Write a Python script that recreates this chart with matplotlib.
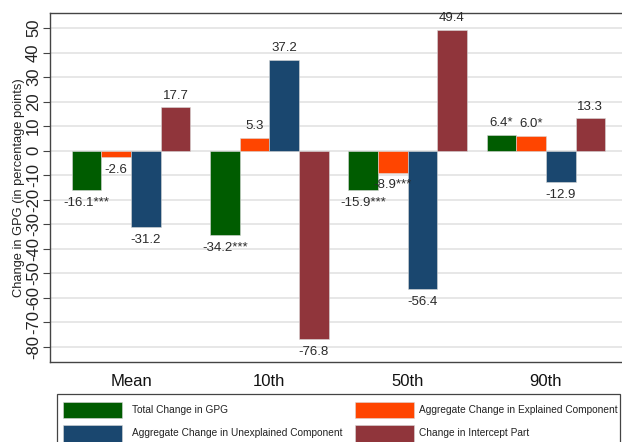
import numpy as np
import matplotlib
matplotlib.use("Agg")
import matplotlib.pyplot as plt
from matplotlib.patches import Rectangle

plt.rcParams['font.family'] = ['Liberation Sans', 'DejaVu Sans']

groups = ["Mean", "10th", "50th", "90th"]
series_names = [
    "Total Change in GPG",
    "Aggregate Change in Explained Component",
    "Aggregate Change in Unexplained Component",
    "Change in Intercept Part",
]
total = [-16.1, -34.2, -15.9, 6.4]
explained = [-2.6, 5.3, -8.9, 6.0]
unexplained = [-31.2, 37.2, -56.4, -12.9]
intercept = [17.7, -76.8, 49.4, 13.3]
stars = [
    ["***", "***", "***", "*"],
    ["", "", "***", "*"],
    ["", "", "", ""],
    ["", "", "", ""],
]
yticks = list(range(-80, 51, 10))

colors = ["#005c00", "#ff4500", "#1a476f", "#90353b"]
series = [total, explained, unexplained, intercept]

W, H = 622, 442
fig = plt.figure(figsize=(W / 100, H / 100), dpi=100)
ax = fig.add_axes([50 / W, 1 - 362 / H, 577 / W, 349 / H])

x = np.arange(len(groups))
w = 0.214
for i, (vals, col) in enumerate(zip(series, colors)):
    pos = x + (i - 1.5) * w
    ax.bar(pos, vals, width=w, color=col, edgecolor="#d8d8d8",
           linewidth=0.4, zorder=3)
    for p, v, s in zip(pos, vals, stars[i]):
        txt = f"{v:.1f}{s}"
        if v >= 0:
            ax.annotate(txt, (p, v), xytext=(0, 4), textcoords="offset points",
                        ha="center", va="bottom", fontsize=9.5, color="#2a2a2a",
                        zorder=5)
        else:
            ax.annotate(txt, (p, v), xytext=(0, -5), textcoords="offset points",
                        ha="center", va="top", fontsize=9.5, color="#2a2a2a",
                        zorder=5)

ax.set_xlim(-0.586, 3.586)
ax.set_ylim(-86.2, 56.2)
ax.set_yticks(yticks)
ax.set_yticklabels([str(t) for t in yticks], rotation=90, va="center",
                   fontsize=12, color="#222222")
ax.set_xticks(x)
ax.set_xticklabels(groups, fontsize=12, color="#111111")
ax.tick_params(axis="x", length=0, pad=9)
ax.tick_params(axis="y", length=5, width=0.8, color="#444444", pad=1.5)
ax.yaxis.grid(True, color="#e3e3e3", linewidth=1.2, zorder=0)
ax.set_axisbelow(True)
for s in ["left", "top", "bottom", "right"]:
    ax.spines[s].set_color("#444444")
    ax.spines[s].set_linewidth(1.0)
ax.set_ylabel("Change in GPG (in percentage points)", fontsize=9.3,
              color="#222222", labelpad=1)

# Legend box below the plot, laid out in figure pixels
def fx(px):
    return px / W

def fy(py):
    return 1 - py / H

fig.patches.append(Rectangle((fx(56.5), fy(452)), fx(620) - fx(56.5),
                             fy(394) - fy(452), transform=fig.transFigure,
                             facecolor="white", edgecolor="#444444",
                             linewidth=0.9, zorder=1))
entries = [
    (0, 62.7, 401.7),
    (2, 62.7, 425.0),
    (1, 355.0, 401.7),
    (3, 355.0, 425.0),
]
for k, px, py in entries:
    fig.patches.append(Rectangle((fx(px), fy(py + 16.6)), fx(59), 16.6 / H,
                                 transform=fig.transFigure, facecolor=colors[k],
                                 edgecolor="#d8d8d8", linewidth=0.4, zorder=2))
    tx = px + 69 if px < 100 else px + 64
    fig.text(fx(tx), fy(py + 8.5), series_names[k], fontsize=7.3,
             color="#222222", va="center", ha="left", zorder=3)

fig.savefig("out.png", dpi=100)
